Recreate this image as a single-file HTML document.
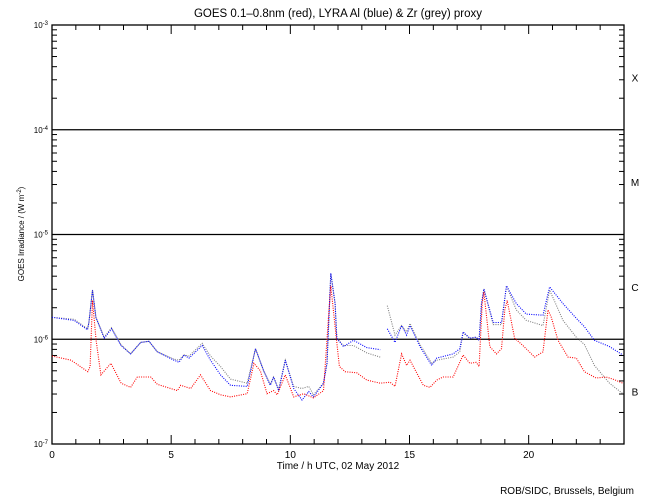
<!DOCTYPE html>
<html><head><meta charset="utf-8"><style>
body{margin:0;background:#fff;}
svg{display:block;font-family:"Liberation Sans",sans-serif;}
</style></head><body>
<svg id="chart" width="650" height="500" viewBox="0 0 650 500" xmlns="http://www.w3.org/2000/svg">
<text x="338" y="17" font-size="11.5" text-anchor="middle">GOES 0.1–0.8nm (red), LYRA Al (blue) &amp; Zr (grey) proxy</text>
<text transform="translate(24,234) rotate(-90)" font-size="8" text-anchor="middle">GOES Irradiance / (W m<tspan baseline-shift="super" font-size="6">-2</tspan>)</text>
<text x="338" y="469" font-size="10" text-anchor="middle">Time / h UTC, 02 May 2012</text>
<text x="634" y="494" font-size="10" text-anchor="end">ROB/SIDC, Brussels, Belgium</text>
<g id="axes"></g>
<g id="series"></g>
</svg>
<script>
const xTicks=[0,5,10,15,20];
const yDecades=[-7,-6,-5,-4,-3];
const classLabels=["B","C","M","X"];
const redHours=[0,0.8,1.5,1.6,1.7,1.85,2.05,2.47,2.9,3.3,3.58,4.14,4.42,5.26,5.4,5.82,6.23,6.65,7.07,7.49,8.19,8.47,8.74,9.02,9.3,9.45,9.79,10.14,10.56,10.97,11.39,11.6,11.7,11.88,12.06,12.3,12.79,13.21,13.77,14.18,14.39,14.67,14.88,15.02,15.58,15.86,16.14,16.41,16.83,17.25,17.53,17.8,17.92,18.05,18.12,18.37,18.65,18.86,19.0,19.1,19.41,19.76,20.25,20.6,20.81,20.95,21.23,21.65,22.0,22.34,22.83,23.25,23.53,23.95];
const redLog=[-6.16,-6.20,-6.31,-6.26,-5.63,-6.01,-6.34,-6.23,-6.42,-6.46,-6.36,-6.36,-6.43,-6.49,-6.44,-6.47,-6.34,-6.49,-6.53,-6.55,-6.52,-6.23,-6.30,-6.52,-6.49,-6.53,-6.34,-6.55,-6.52,-6.56,-6.49,-5.79,-5.49,-5.88,-6.26,-6.31,-6.32,-6.39,-6.42,-6.41,-6.45,-6.14,-6.25,-6.20,-6.44,-6.46,-6.39,-6.36,-6.36,-6.15,-6.23,-6.22,-6.26,-5.66,-5.55,-6.07,-6.14,-6.09,-5.72,-5.63,-5.99,-6.06,-6.17,-6.12,-5.72,-5.79,-6.01,-6.17,-6.18,-6.31,-6.37,-6.36,-6.38,-6.42];
const lyraHours=[0,0.93,1.49,1.55,1.7,1.84,2.19,2.5,2.89,3.3,3.72,4.07,4.42,5.12,5.33,5.54,5.75,6.3,6.65,7.07,7.49,8.19,8.54,8.88,9.16,9.3,9.51,9.79,10.14,10.49,10.77,10.97,11.39,11.54,11.7,11.88,11.95,12.23,12.65,13.21,13.77,13.9,14.07,14.39,14.67,14.88,15.02,15.44,15.93,16.14,16.83,17.11,17.25,17.53,17.8,17.92,18.02,18.12,18.51,18.86,19.07,19.48,19.9,20.6,20.88,21.44,22.0,22.34,22.76,23.39,23.95];
const blueLog=[-5.79,-5.82,-5.91,-5.84,-5.53,-5.79,-5.99,-5.90,-6.06,-6.14,-6.03,-6.02,-6.12,-6.20,-6.22,-6.15,-6.18,-6.06,-6.20,-6.34,-6.44,-6.45,-6.09,-6.30,-6.44,-6.36,-6.49,-6.20,-6.47,-6.58,-6.50,-6.55,-6.42,-6.23,-5.37,-5.66,-5.99,-6.07,-6.01,-6.08,-6.10,null,-5.90,-6.03,-5.87,-5.96,-5.87,-6.07,-6.25,-6.18,-6.14,-6.09,-5.93,-5.99,-5.98,-6.01,-5.66,-5.52,-5.84,-5.84,-5.49,-5.66,-5.76,-5.77,-5.50,-5.66,-5.80,-5.88,-6.01,-6.07,-6.15];
const greyLog=[-5.79,-5.81,-5.90,-5.84,-5.53,-5.79,-5.98,-5.89,-6.05,-6.14,-6.03,-6.02,-6.12,-6.19,-6.20,-6.15,-6.16,-6.04,-6.16,-6.26,-6.38,-6.42,-6.09,-6.30,-6.43,-6.36,-6.48,-6.20,-6.45,-6.47,-6.45,-6.53,-6.42,-6.23,-5.37,-5.66,-5.99,-6.06,-6.06,-6.13,-6.17,null,-5.68,-5.96,-5.87,-5.93,-5.85,-6.05,-6.23,-6.20,-6.17,-6.12,-5.94,-5.99,-5.98,-6.01,-5.66,-5.52,-5.86,-5.86,-5.49,-5.72,-5.82,-5.87,-5.53,-5.82,-5.98,-6.05,-6.25,-6.42,-6.52];

const L=52,R=624,T=25,B=444;
const NS="http://www.w3.org/2000/svg";
const xS=h=>L+(R-L)*h/24;
const yS=lg=>B-(B-T)*(lg+7)/4;
const axes=document.getElementById('axes'), series=document.getElementById('series');
function mk(tag,attrs,parent){const e=document.createElementNS(NS,tag);for(const k in attrs)e.setAttribute(k,attrs[k]);parent.appendChild(e);return e;}

const frame=mk('rect',{x:L,y:T,width:R-L,height:B-T,fill:'none',stroke:'#000','stroke-width':1.3},axes);


for(let h=0;h<=24;h++){
  const len=(h%5===0)?9:5;
  const t1=mk('line',{x1:xS(h),x2:xS(h),y1:B,y2:B-len,stroke:'#000'},axes);
  
  
  const t2=mk('line',{x1:xS(h),x2:xS(h),y1:T,y2:T+len,stroke:'#000'},axes);
  
  
}
xTicks.forEach(h=>{
  const t=mk('text',{x:xS(h),y:B+14,'font-size':10,'text-anchor':'middle'},axes);
  t.textContent=h;
  
  
});
for(let d=-7;d<-3;d++){
  for(let m=2;m<=9;m++){
    const y=yS(d+Math.log10(m));
    const a=mk('line',{x1:L,x2:L+5,y1:y,y2:y,stroke:'#000'},axes);
    
    
    const b=mk('line',{x1:R,x2:R-5,y1:y,y2:y,stroke:'#000'},axes);
    
    
  }
}
yDecades.forEach(d=>{
  const y=yS(d);
  if(d>-7&&d<-3){
    const g=mk('line',{x1:L,x2:R,y1:y,y2:y,stroke:'#000','stroke-width':1.3},axes);
    
    
  }
  const t=mk('text',{x:L-4,y:y+3,'font-size':8,'text-anchor':'end'},axes);
  t.innerHTML='10<tspan baseline-shift="super" font-size="6">'+d+'</tspan>';
  
  
});
classLabels.forEach((c,i)=>{
  const t=mk('text',{x:635,y:yS(-7+i+0.5)+4,'font-size':10,'text-anchor':'middle'},axes);
  t.textContent=c;
  
  
});
function drawSeries(hours,vals,color,name){
  let segs=[],cur=[];
  hours.forEach((h,i)=>{ if(vals[i]===null){if(cur.length)segs.push(cur);cur=[];} else cur.push(xS(h).toFixed(1)+','+yS(vals[i]).toFixed(1)); });
  if(cur.length)segs.push(cur);
  segs.forEach(s=>{
    const p=mk('polyline',{points:s.join(' '),fill:'none',stroke:color,'stroke-width':1.1,'stroke-dasharray':'1 1.3'},series);
    
    
  });
}
drawSeries(lyraHours,greyLog,'#808080','zr-proxy-series');
drawSeries(lyraHours,blueLog,'#0000ff','al-proxy-series');
drawSeries(redHours,redLog,'#ff0000','goes-series');
</script>
</body></html>
